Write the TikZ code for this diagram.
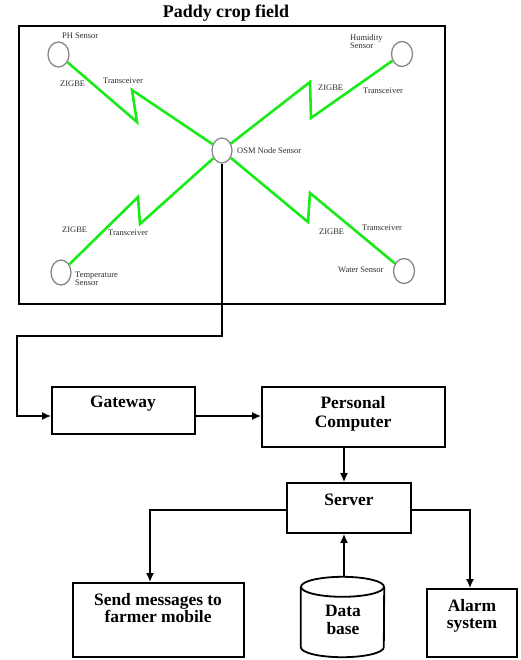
\documentclass[tikz,border=0pt]{standalone}
\usepackage{fontspec}
\setmainfont{Liberation Serif}
\usetikzlibrary{shapes.geometric,arrows.meta,calc}
\definecolor{zgreen}{RGB}{25,235,25}
\definecolor{sgray}{RGB}{135,135,135}
\definecolor{tgray}{RGB}{45,45,45}
\begin{document}
\begin{tikzpicture}[x=1bp,y=-1bp,
  sensor/.style={ellipse,draw=sgray,line width=1.3bp,minimum width=21bp,minimum height=25bp,inner sep=0pt},
  tiny/.style={font=\fontsize{8.5}{8.5}\selectfont,inner sep=0pt,anchor=west,text=tgray,align=left},
  zig/.style={draw=zgreen,line width=2.6bp,line join=miter},
  box/.style={draw,line width=1.8bp,inner sep=0pt},
  lbl/.style={font=\fontsize{17.5}{17.5}\selectfont\bfseries,inner sep=0pt,anchor=base},
  conn/.style={draw,line width=1.6bp},
  arr/.style={conn,-{Latex[length=9bp,width=8bp]}},
]
\useasboundingbox (0,0) rectangle (521,660);

% title and field
\node[lbl,font=\fontsize{18}{18}\selectfont\bfseries] (title) at (226,18) {Paddy crop field};
\node[draw,line width=2bp,minimum width=426bp,minimum height=278bp,anchor=north west,inner sep=0pt] (field) at (18,25) {};

% sensors
\node[sensor] (ph) at (58.5,54.5) {};
\node[sensor] (hum) at (402,54) {};
\node[sensor,minimum width=20bp] (osm) at (222,150.5) {};
\node[sensor,minimum width=20bp] (temp) at (61,272.5) {};
\node[sensor] (water) at (404,271) {};

% sensor labels
\node[tiny] (phl) at (62,36) {PH Sensor};
\node[tiny] (huml) at (350,41.5) {Humidity\\Sensor};
\node[tiny] (osml) at (237,151) {OSM Node Sensor};
\node[tiny] (templ) at (75,278.5) {Temperature\\Sensor};
\node[tiny] (waterl) at (338,270) {Water Sensor};

\node[tiny] (zb1) at (60,84) {ZIGBE};
\node[tiny] (zb2) at (318,88) {ZIGBE};
\node[tiny] (zb3) at (62,230) {ZIGBE};
\node[tiny] (zb4) at (319,232) {ZIGBE};
\node[tiny] (tr1) at (103,81) {Transceiver};
\node[tiny] (tr2) at (363,91) {Transceiver};
\node[tiny] (tr3) at (108,233) {Transceiver};
\node[tiny] (tr4) at (362,228) {Transceiver};

% zigzag links
\coordinate (a1) at (137,122); \coordinate (a2) at (132,90);
\coordinate (b1) at (310,82);  \coordinate (b2) at (311,118);
\coordinate (c1) at (138,197); \coordinate (c2) at (140,224);
\coordinate (d1) at (308,222); \coordinate (d2) at (310,193);
\draw[zig] (ph) -- (a1) -- (a2) -- (osm);
\draw[zig] (osm) -- (b1) -- (b2) -- (hum);
\draw[zig] (temp) -- (c1) -- (c2) -- (osm);
\draw[zig] (osm) -- (d1) -- (d2) -- (water);

% lower boxes
\node[box,minimum width=143bp,minimum height=47bp] (gw) at (123.5,410.5) {};
\node[box,minimum width=183bp,minimum height=60bp] (pc) at (353.5,417) {};
\node[box,minimum width=124bp,minimum height=50bp] (srv) at (349,508) {};
\node[box,minimum width=171bp,minimum height=74bp] (send) at (158.5,620) {};
\node[box,minimum width=90bp,minimum height=68bp] (alarm) at (472,623) {};
\node[inner sep=0pt,minimum width=83bp,minimum height=80bp] (db) at (342.5,617) {};

% database cylinder
\draw[box] ($(db.north west)+(0,10)$) -- ($(db.south west)+(0,-10)$)
  arc[start angle=180,end angle=360,x radius=41.5bp,y radius=10bp] -- ($(db.north east)+(0,10)$);
\draw[box] ($(db.north)+(0,10)$) ellipse[x radius=41.5bp,y radius=10bp];

% box texts
\node[lbl] (gwt) at (123,407) {Gateway};
\node[lbl] (pct1) at (353,408) {Personal};
\node[lbl] (pct2) at (353,427) {Computer};
\node[lbl] (srvt) at (349,505) {Server};
\node[lbl] (sendt1) at (158,605) {Send messages to};
\node[lbl] (sendt2) at (158,622) {farmer mobile};
\node[lbl] (dbt1) at (343,616) {Data};
\node[lbl] (dbt2) at (343,634) {base};
\node[lbl] (alt1) at (472,611) {Alarm};
\node[lbl] (alt2) at (472,628) {system};

% connectors
\coordinate (k1) at (222,336); \coordinate (k2) at (17,336); \coordinate (k3) at (17,416);
\coordinate (gy) at (0,416);
\coordinate (col) at (344,0);
\coordinate (sy) at (0,510);
\coordinate (sx) at (150,0);
\coordinate (ax) at (470,0);
\draw[arr] (osm.south) -- (k1) -- (k2) -- (k3) -- (gw.west |- gy);
\draw[arr] (gw.east |- gy) -- (pc.west |- gy);
\draw[arr] (pc.south -| col) -- (srv.north -| col);
\draw[arr] (db.north -| col) -- (srv.south -| col);
\draw[arr] (srv.west |- sy) -| (send.north -| sx);
\draw[arr] (srv.east |- sy) -| (alarm.north -| ax);
\end{tikzpicture}
\end{document}
